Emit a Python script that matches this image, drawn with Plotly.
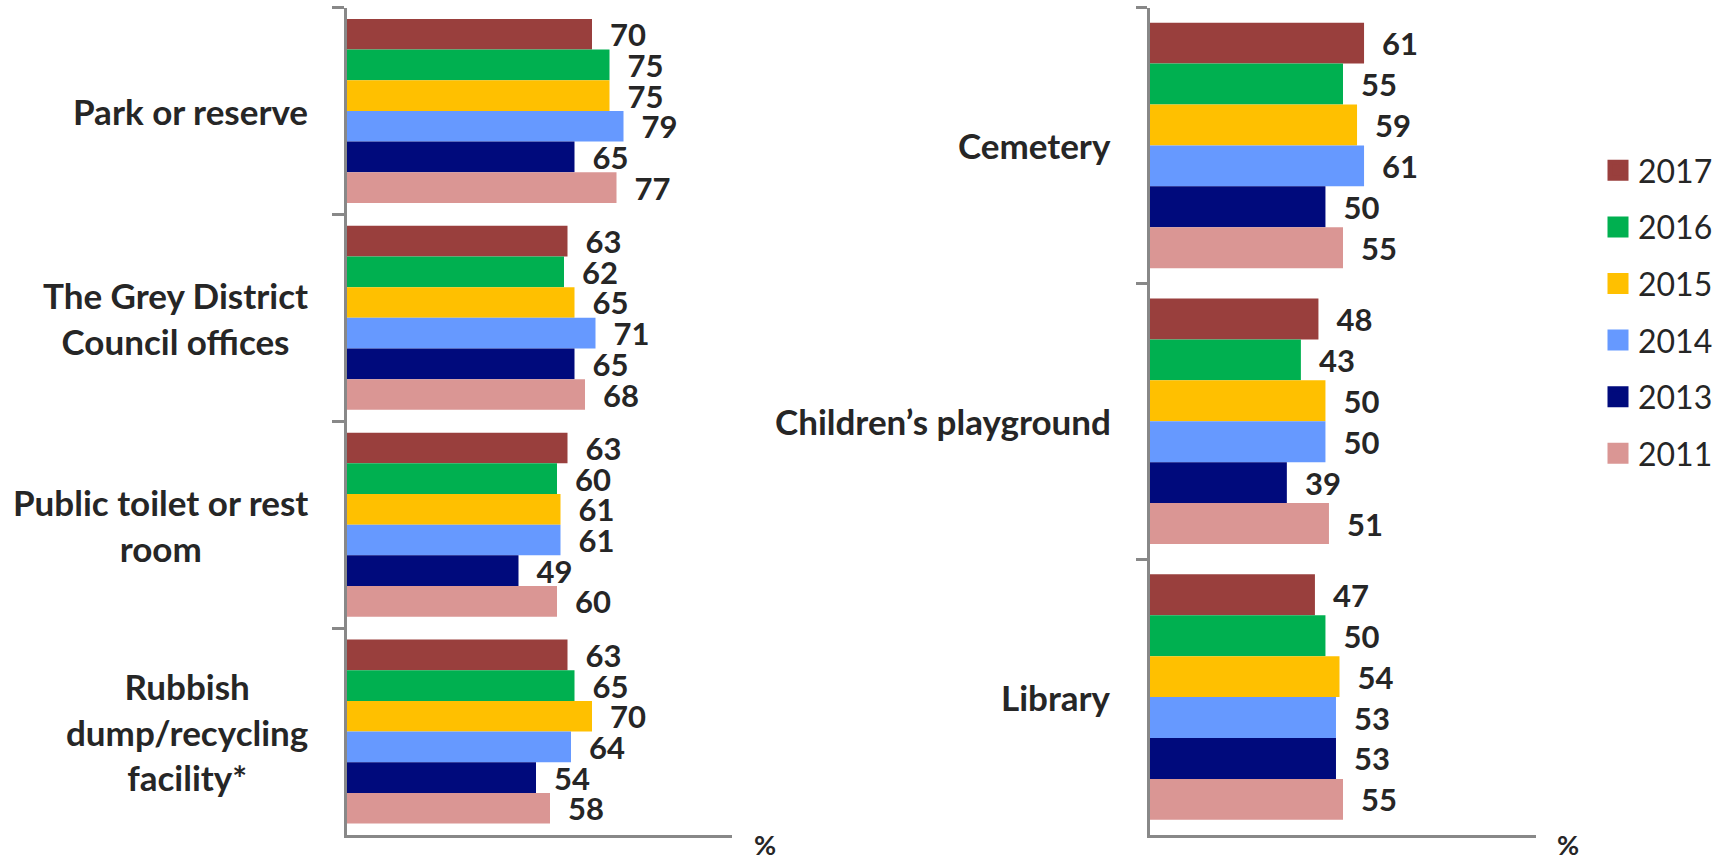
import plotly.graph_objects as go

years = ["2017", "2016", "2015", "2014", "2013", "2011"]
colors = ["#993F3D", "#00B050", "#FFC000", "#6699FF", "#000A7C", "#DA9694"]

left_categories = ["Park or reserve", "The Grey District<br>Council offices",
                   "Public toilet or rest<br>room", "Rubbish<br>dump/recycling<br>facility*"]
left_values = {
    "2017": [70, 63, 63, 63],
    "2016": [75, 62, 60, 65],
    "2015": [75, 65, 61, 70],
    "2014": [79, 71, 61, 64],
    "2013": [65, 65, 49, 54],
    "2011": [77, 68, 60, 58],
}

right_categories = ["Cemetery", "Children\u2019s playground", "Library"]
right_values = {
    "2017": [61, 48, 47],
    "2016": [55, 43, 50],
    "2015": [59, 50, 54],
    "2014": [61, 50, 53],
    "2013": [50, 39, 53],
    "2011": [55, 51, 55],
}

FONT = "Lato"
TXT = "#262626"
AX = "#888888"

fig = go.Figure()
for yr, col in zip(years, colors):
    fig.add_trace(go.Bar(
        y=left_categories, x=left_values[yr], orientation="h", name=yr,
        marker=dict(color=col, line=dict(width=0)),
        text=["\u00a0\u00a0" + str(v) for v in left_values[yr]],
        textposition="outside", constraintext="none", cliponaxis=False,
        textfont=dict(family=FONT, size=31, color=TXT, weight=700),
        xaxis="x", yaxis="y", legendgroup=yr, showlegend=False,
    ))
    fig.add_trace(go.Bar(
        y=right_categories, x=right_values[yr], orientation="h", name=yr,
        marker=dict(color=col, line=dict(width=0)),
        text=["\u00a0\u00a0" + str(v) for v in right_values[yr]],
        textposition="outside", constraintext="none", cliponaxis=False,
        textfont=dict(family=FONT, size=31, color=TXT, weight=700),
        xaxis="x2", yaxis="y2", legendgroup=yr, showlegend=False,
    ))
    # legend entry (square swatch)
    fig.add_trace(go.Scatter(
        x=[None], y=[None], mode="markers", name=yr,
        marker=dict(symbol="square", size=16, color=col, line=dict(color=col, width=5)),
        xaxis="x2", yaxis="y2", legendgroup=yr, showlegend=True, hoverinfo="skip",
    ))

W, H = 1724, 862
ydom = [27 / H, 854.5 / H]
axis_common = dict(showgrid=False, zeroline=False, showline=True, linecolor=AX, linewidth=2.5)

LBL = 35
annotations = []
for c in left_categories:
    annotations.append(dict(x=310 / W, xref="paper", xanchor="right", y=c, yref="y",
                            text=c, showarrow=False, align="center",
                            font=dict(family=FONT, size=LBL, color=TXT, weight=700)))
for c in right_categories:
    annotations.append(dict(x=1113 / W, xref="paper", xanchor="right", y=c, yref="y2",
                            text=c, showarrow=False, align="center",
                            font=dict(family=FONT, size=LBL, color=TXT, weight=700)))
for px in (765, 1568):
    annotations.append(dict(x=px / W, y=0, xref="paper", yref="paper", text="%",
                            xanchor="center", yanchor="bottom", showarrow=False,
                            borderpad=0, font=dict(family=FONT, size=27, color=TXT, weight=700)))

fig.update_layout(
    width=W, height=H, margin=dict(l=0, r=0, t=0, b=0),
    paper_bgcolor="white", plot_bgcolor="white",
    barmode="group", bargap=0.11, bargroupgap=0,
    xaxis=dict(domain=[347 / W, 732 / W], range=[0, 110], showticklabels=False,
               ticks="", anchor="y", **axis_common),
    yaxis=dict(domain=ydom, autorange="reversed", showticklabels=False, ticks="outside",
               tickson="boundaries", ticklen=12, tickwidth=2.5, tickcolor=AX,
               anchor="x", **axis_common),
    xaxis2=dict(domain=[1150 / W, 1536 / W], range=[0, 110], showticklabels=False,
                ticks="", anchor="y2", **axis_common),
    yaxis2=dict(domain=ydom, autorange="reversed", showticklabels=False, ticks="outside",
                tickson="boundaries", ticklen=11, tickwidth=2.5, tickcolor=AX,
                anchor="x2", **axis_common),
    legend=dict(x=1598 / W, xanchor="left", y=1 - 143 / H, yanchor="top",
                font=dict(family=FONT, size=32, color=TXT), tracegroupgap=12,
                bgcolor="rgba(0,0,0,0)"),
    annotations=annotations,
    font=dict(family=FONT, color=TXT),
)

fig.write_html("out.html")
